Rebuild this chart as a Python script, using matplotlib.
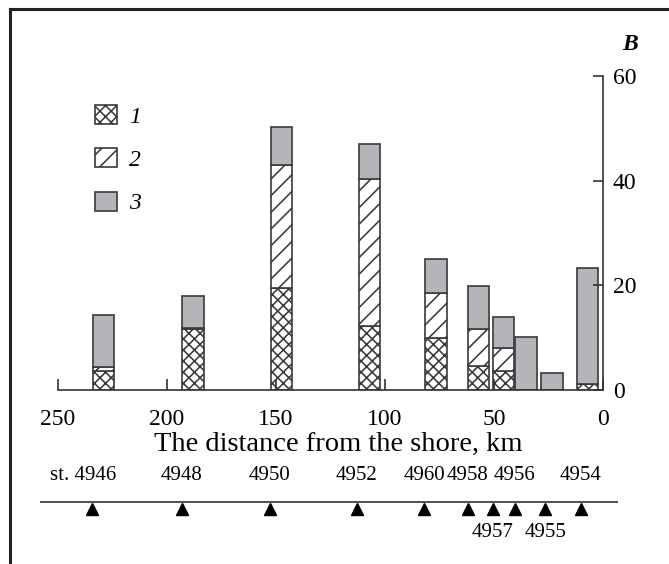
import matplotlib
matplotlib.use("Agg")
import matplotlib.pyplot as plt
from matplotlib.patches import Patch
from matplotlib.lines import Line2D

plt.rcParams['font.family'] = ['Liberation Serif', 'DejaVu Serif']
plt.rcParams['hatch.linewidth'] = 1.15

# bar data (distance from shore, km) and B for components 1, 2, 3
dist = [229, 188, 147.5, 107, 76.6, 57, 45.6, 35.3, 23.4, 7.1]
b1 = [3.7, 11.6, 19.4, 12.2, 9.9, 4.6, 3.6, 0.0, 0.0, 1.1]
b2 = [0.6, 0.3, 23.6, 28.1, 8.6, 7.0, 4.4, 0.0, 0.0, 0.0]
b3 = [10.0, 6.1, 7.3, 6.8, 6.5, 8.3, 6.0, 10.2, 3.2, 22.2]

# stations along the section
st_pos = [234.4, 193.2, 152.8, 113.0, 82.0, 62.0, 50.5, 40.5, 26.5, 10.3]
st_names = ['st. 4946', '4948', '4950', '4952', '4960', '4958', '4957', '4956', '4955', '4954']
st_below = [False, False, False, False, False, False, True, False, True, False]

W, H = 669, 564
fig = plt.figure(figsize=(W / 100, H / 100), dpi=100)

# outer frame (left and top only, as in the scan)
fig.add_artist(Line2D([10 / W, 10 / W], [0, 1 - 9 / H], color='#222222', lw=2.2))
fig.add_artist(Line2D([10 / W, 1], [1 - 9 / H, 1 - 9 / H], color='#222222', lw=2.2))

x0, x1, y0, y1 = 58, 603, 390, 76
ax = fig.add_axes([x0 / W, 1 - y0 / H, (x1 - x0) / W, (y0 - y1) / H])

edge = '#3a3a3a'
grey = '#b4b5b9'
width = 9.8
bot2 = [a for a in b1]
bot3 = [a + b for a, b in zip(b1, b2)]
ax.bar(dist, b1, width=width, color='white', edgecolor=edge, hatch='xxx', lw=1.2)
ax.bar(dist, b2, width=width, bottom=bot2, color='white', edgecolor=edge, hatch='//', lw=1.2)
ax.bar(dist, b3, width=width, bottom=bot3, color=grey, edgecolor=edge, lw=1.2)

ax.set_xlim(250, 0)
ax.set_ylim(0, 60)
ax.spines['left'].set_visible(False)
ax.spines['top'].set_visible(False)
for s in ['bottom', 'right']:
    ax.spines[s].set_color('#333333')
    ax.spines[s].set_linewidth(1.2)
ax.set_xticks([250, 200, 150, 100, 50, 0])
ax.set_yticks([0, 20, 40, 60])
ax.yaxis.tick_right()
ax.tick_params(axis='x', direction='in', length=8, width=1.2, pad=14, labelsize=17, color='#333333')
ax.tick_params(axis='y', direction='in', length=7, width=1.2, pad=7, labelsize=17, color='#333333')
ax.set_facecolor('none')

fig.text(630 / W, 1 - 45 / H, 'B', fontsize=17, fontweight='bold', fontstyle='italic',
         ha='center', va='center')
fig.text(338 / W, 1 - 444 / H, 'The distance from the shore, km', fontsize=20.5,
         ha='center', va='center')

handles = [Patch(facecolor='white', edgecolor=edge, hatch='xxx', lw=1.2),
           Patch(facecolor='white', edgecolor=edge, hatch='//', lw=1.2),
           Patch(facecolor=grey, edgecolor=edge, lw=1.2)]
leg = fig.legend(handles, ['1', '2', '3'], loc='upper left', bbox_to_anchor=(95 / W, 1 - 105 / H),
                 bbox_transform=fig.transFigure, borderpad=0, borderaxespad=0,
                 frameon=False, handlelength=0.95, handleheight=0.85, labelspacing=0.88,
                 handletextpad=0.5, prop={'size': 17, 'style': 'italic'})

# station panel
sx0, sx1 = 40, 618
sax = fig.add_axes([sx0 / W, 1 - 547 / H, (sx1 - sx0) / W, 90 / H])
sax.set_xlim((x1 - sx0) / ((x1 - x0) / 250), (x1 - sx1) / ((x1 - x0) / 250))
sax.set_ylim(-1.6, 1.6)
sax.axis('off')
sax.axhline(0, color='#333333', lw=1.2)
sax.plot(st_pos, [-0.24] * len(st_pos), ls='none', marker='^', color='black', ms=8)
for i, (p, n, b) in enumerate(zip(st_pos, st_names, st_below)):
    yy = -1.1 if b else 0.95
    dx = -9 if n.startswith('st.') else 0
    sax.annotate(n, (p, yy), xytext=(dx * 0.72, 0), textcoords='offset points',
                 ha='center', va='center', fontsize=15)

fig.savefig('out.png', dpi=100)
